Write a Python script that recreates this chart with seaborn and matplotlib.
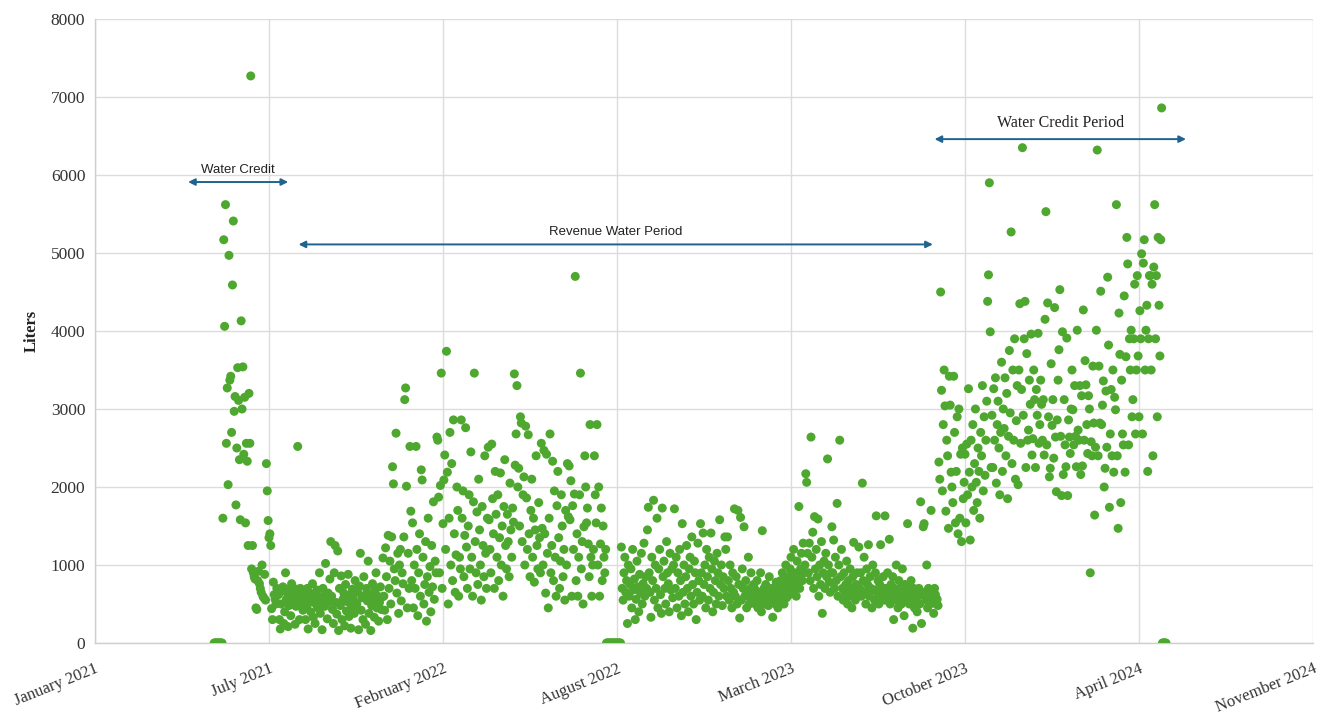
import numpy as np
import pandas as pd
import matplotlib
matplotlib.use("Agg")
import matplotlib.pyplot as plt
import matplotlib.dates as mdates
import seaborn as sns

# Daily water volume readings (liters), one list per month of records
may_2021 = [0, 0, 0, 0, 0, 0, 0, 0, 0, 0, 1600]
jun_2021 = [5170, 4060, 5620, 2560, 3270, 2030, 4970, 3370, 3420, 2700, 4590, 5410, 2970, 3160, 1770,
            2500, 3530, 3110, 2350, 1580, 4130, 3000, 3540, 2420, 3150, 1540, 2560, 2330, 1250, 3200]
jul_2021 = [2560, 7270, 950, 1250, 900, 850, 820, 450, 430, 800, 920, 760, 700, 650, 1000, 600, 580,
            880, 550, 2300, 1950, 1570, 1350, 1400, 1250, 440, 300, 780, 620, 560, 500]
aug_2021 = [700, 650, 620, 300, 180, 500, 680, 720, 250, 400, 900, 560, 640, 210, 480, 700, 350, 760,
            600, 550, 620, 240, 470, 690, 2520, 560, 300, 700, 640, 480, 420]
sep_2021 = [620, 550, 300, 450, 700, 180, 650, 520, 400, 580, 760, 330, 610, 250, 500, 680, 450, 600,
            900, 380, 540, 170, 700, 600, 470, 1020, 560, 310, 640, 530]
oct_2021 = [820, 1300, 600, 430, 250, 900, 1250, 520, 370, 1180, 160, 700, 480, 860, 300, 560, 640,
            220, 750, 410, 530, 880, 340, 620, 190, 470, 690, 560, 380, 800, 450]
nov_2021 = [500, 650, 170, 730, 1150, 420, 580, 300, 850, 610, 240, 700, 540, 1050, 380, 620, 160, 480,
            760, 560, 330, 680, 900, 450, 600, 280, 520, 720, 430, 590]
dec_2021 = [1090, 600, 420, 1220, 850, 300, 1380, 700, 1050, 500, 1360, 2260, 2040, 950, 800, 2690, 640,
            1150, 380, 1000, 1200, 540, 900, 760, 1360, 3120, 3270, 2010, 450, 1150, 700]
jan_2022 = [2520, 1690, 800, 1540, 450, 1000, 700, 2520, 1200, 350, 900, 1400, 600, 2220, 2090, 1100,
            500, 750, 1300, 280, 850, 1600, 650, 980, 400, 1250, 720, 1810, 560, 1050, 900]
feb_2022 = [2640, 2600, 1870, 900, 2020, 3460, 700, 1530, 2090, 2410, 1200, 3740, 2190, 500, 1600, 2700,
            1000, 2300, 800, 2860, 1400, 650, 1130, 2000, 1700, 600, 1100, 950]
mar_2022 = [2860, 1600, 1950, 850, 1380, 2760, 1230, 700, 1500, 1900, 950, 2450, 1100, 600, 1810, 3460,
            1300, 900, 1680, 750, 2100, 1450, 1000, 550, 1750, 1250, 850, 2400, 1150, 700, 1600]
apr_2022 = [2510, 1580, 1200, 900, 2550, 1850, 1400, 700, 2200, 1650, 1100, 1900, 800, 1350, 2180, 1000,
            1500, 600, 1750, 2350, 1250, 950, 1650, 1300, 850, 2050, 1450, 1100, 1730, 1550]
may_2022 = [3450, 2280, 2680, 3300, 2000, 2240, 1500, 2900, 2820, 1300, 1900, 2130, 1000, 2780, 1860,
            1200, 2670, 1400, 850, 1700, 2100, 1100, 1600, 780, 1450, 2400, 1250, 950, 1800, 1350, 900]
jun_2022 = [2560, 1470, 1000, 2470, 1400, 640, 2420, 1150, 450, 1600, 2680, 900, 1250, 2330, 800, 1950,
            1100, 600, 1760, 2200, 1350, 700, 1050, 1900, 1500, 850, 1200, 550, 1700, 1000]
jul_2022 = [2300, 1620, 2270, 1580, 2080, 600, 1760, 1200, 1910, 4700, 800, 1400, 600, 1100, 1900, 3460,
            950, 1300, 500, 1490, 2400, 2000, 1540, 1730, 1270, 850, 2800, 1100, 600, 1000, 1200]
aug_2022 = [2400, 1900, 1540, 2800, 1000, 2000, 600, 1270, 1730, 800, 1500, 1100, 900, 1200,
            0, 0, 0, 0, 0, 0, 0, 0, 0, 0, 0, 0, 0, 0, 0, 0, 0]
sep_2022 = [1230, 700, 550, 900, 1100, 650, 800, 250, 1000, 600, 750, 950, 450, 1200, 680, 820, 300, 560,
            1050, 720, 400, 880, 640, 1150, 500, 760, 1280, 600, 850, 700]
oct_2022 = [1450, 1740, 900, 650, 330, 1100, 800, 1830, 550, 1000, 700, 1600, 450, 950, 1200, 620, 380,
            1730, 850, 1050, 700, 500, 1300, 900, 760, 400, 1150, 680, 950, 580, 1000]
nov_2022 = [1720, 700, 1100, 450, 900, 600, 1200, 800, 350, 1530, 650, 1000, 500, 850, 1250, 700, 400,
            950, 1100, 600, 1360, 750, 500, 1050, 900, 300, 650, 1280, 800, 550]
dec_2022 = [1530, 900, 600, 1410, 750, 1000, 450, 1200, 850, 550, 1100, 700, 1410, 950, 400, 650, 1050,
            800, 500, 1150, 900, 600, 1580, 750, 1000, 480, 850, 700, 1360, 1200, 600]
jan_2023 = [1360, 800, 550, 1000, 700, 450, 900, 650, 1720, 600, 850, 500, 1700, 750, 320, 1610, 550,
            950, 700, 1490, 600, 800, 450, 650, 1100, 500, 700, 900, 550, 600, 750]
feb_2023 = [700, 500, 600, 800, 450, 650, 550, 900, 400, 1440, 600, 700, 500, 750, 550, 650, 480, 850,
            600, 520, 700, 330, 560, 640, 500, 780, 600, 450]
mar_2023 = [700, 550, 800, 600, 900, 650, 500, 750, 1000, 580, 850, 700, 620, 950, 1100, 800, 680, 1200,
            900, 750, 600, 1050, 850, 1750, 700, 950, 1150, 800, 1280, 900, 1000]
apr_2023 = [2170, 2060, 1150, 900, 1280, 800, 2640, 1100, 1420, 700, 1620, 950, 1200, 850, 1590, 600,
            1000, 750, 1300, 380, 900, 1050, 700, 1150, 850, 2360, 1000, 780, 650, 900]
may_2023 = [1490, 900, 1320, 700, 1100, 800, 1790, 600, 1000, 2600, 850, 1200, 700, 550, 900, 650, 750,
            1050, 500, 800, 600, 950, 700, 450, 850, 1290, 650, 550, 750, 900, 600]
jun_2023 = [1230, 700, 900, 600, 2050, 800, 1100, 650, 500, 950, 750, 1260, 600, 850, 700, 450, 1000,
            680, 550, 900, 1630, 650, 800, 500, 750, 1260, 600, 700, 850, 550]
jul_2023 = [1630, 700, 550, 900, 650, 1330, 500, 750, 600, 850, 300, 700, 550, 1000, 650, 450, 800, 600,
            700, 500, 950, 600, 350, 750, 650, 550, 1530, 700, 500, 600, 800]
aug_2023 = [600, 190, 700, 450, 650, 550, 400, 600, 700, 500, 1810, 250, 650, 1490, 1530, 600, 550, 1000,
            450, 700, 600, 500, 1700, 640, 550, 380, 700, 620, 500, 560, 480]
sep_2023 = [2320, 2100, 4500, 3240, 1950, 2800, 3500, 3040, 1690, 2600, 2400, 1470, 3420, 3050, 2190,
            2000, 1800, 3420, 2700, 1540, 2200, 2900, 1400, 3000, 1600, 2420, 1300, 2500, 1850, 2060]
oct_2023 = [2420, 1540, 2550, 1900, 3260, 2190, 1320, 2600, 2000, 2800, 1700, 2300, 3000, 2060, 1800,
            2500, 2200, 1600, 2700, 2400, 3300, 1950, 2900, 2150, 2600, 3100, 4380, 4720, 5900, 3990, 2250]
nov_2023 = [2920, 2250, 3260, 2600, 3400, 2050, 2800, 3100, 2500, 1900, 2700, 3600, 2200, 3000, 2750,
            3400, 2400, 3200, 1850, 2650, 3750, 2950, 5270, 2300, 3500, 2600, 3900, 2100, 2850, 3300]
dec_2023 = [2030, 3500, 4350, 2560, 3250, 6350, 2920, 3900, 4380, 2250, 3710, 2600, 2730, 3370, 3060,
            3960, 2410, 2620, 3500, 3120, 2250, 3250, 2920, 3970, 2560, 2800, 3370, 3060, 2600, 3120, 2410]
jan_2024 = [4150, 5530, 2540, 4360, 2900, 2130, 2240, 3580, 2790, 3120, 2370, 4300, 2640, 1940, 2860,
            3370, 3760, 4530, 2650, 1890, 3990, 2160, 3120, 2540, 2260, 3910, 1890, 2860, 2640, 2430, 3000]
feb_2024 = [3500, 2990, 2540, 3300, 2650, 2260, 4010, 2730, 2600, 3300, 2160, 3170, 2270, 4270, 2600,
            3620, 3310, 2800, 2430, 3170, 3000, 900, 2580, 2400, 3550, 2820, 1640, 2510, 4010]
mar_2024 = [6320, 2400, 3550, 2820, 4510, 2800, 3050, 3360, 2000, 2240, 3230, 2510, 4690, 3820, 1740,
            2680, 3250, 2400, 3500, 2190, 3150, 2990, 5620, 2400, 1470, 4230, 3700, 1800, 3370, 2680, 2540]
apr_2024 = [4450, 2190, 3670, 5200, 4860, 2540, 3900, 3500, 4010, 2900, 3120, 3900, 4600, 2680, 3500,
            4710, 3680, 2900, 4260, 3900, 4990, 2680, 4870, 5170, 3500, 4010, 4330, 2200, 3900, 4710]
may_2024 = [4710, 3500, 4600, 2400, 4820, 5620, 3900, 4710, 2900, 5200, 4330, 3680, 5170, 6860,
            0, 0, 0, 0, 0]

segments = [
    ("2021-05-21", may_2021), ("2021-06-01", jun_2021), ("2021-07-01", jul_2021),
    ("2021-08-01", aug_2021), ("2021-09-01", sep_2021), ("2021-10-01", oct_2021),
    ("2021-11-01", nov_2021), ("2021-12-01", dec_2021), ("2022-01-01", jan_2022),
    ("2022-02-01", feb_2022), ("2022-03-01", mar_2022), ("2022-04-01", apr_2022),
    ("2022-05-01", may_2022), ("2022-06-01", jun_2022), ("2022-07-01", jul_2022),
    ("2022-08-01", aug_2022), ("2022-09-01", sep_2022), ("2022-10-01", oct_2022),
    ("2022-11-01", nov_2022), ("2022-12-01", dec_2022), ("2023-01-01", jan_2023),
    ("2023-02-01", feb_2023), ("2023-03-01", mar_2023), ("2023-04-01", apr_2023),
    ("2023-05-01", may_2023), ("2023-06-01", jun_2023), ("2023-07-01", jul_2023),
    ("2023-08-01", aug_2023), ("2023-09-01", sep_2023), ("2023-10-01", oct_2023),
    ("2023-11-01", nov_2023), ("2023-12-01", dec_2023), ("2024-01-01", jan_2024),
    ("2024-02-01", feb_2024), ("2024-03-01", mar_2024), ("2024-04-01", apr_2024),
    ("2024-05-01", may_2024),
]

frames = [pd.DataFrame({"date": pd.date_range(start, periods=len(vals), freq="D"), "liters": vals})
          for start, vals in segments]
df = pd.concat(frames, ignore_index=True)

# Period annotations: label, start, end, arrow height, label baseline height
period_labels = ["Water Credit", "Revenue Water Period", "Water Credit Period"]
period_starts = ["2021-04-21", "2021-08-26", "2023-08-27"]
period_ends = ["2021-08-14", "2023-08-25", "2024-06-11"]
arrow_levels = [5910, 5110, 6460]
label_levels = [5990, 5190, 6560]

sns.set_theme(style="whitegrid")
plt.rcParams["font.family"] = ["Liberation Serif", "DejaVu Serif"]

fig = plt.figure(figsize=(13.23, 7.18), dpi=100)
ax = fig.add_axes([95 / 1323, 75 / 718, 1218 / 1323, 624 / 718])

sns.scatterplot(data=df, x="date", y="liters", color="#4EA72E", s=42, linewidth=0,
                edgecolor="none", ax=ax, zorder=3, legend=False)

axis_start = pd.Timestamp("2021-01-04")
tick_dates = [axis_start + pd.Timedelta(days=200 * k) for k in range(8)]
ax.set_xlim(tick_dates[0], tick_dates[-1])
ax.set_xticks(tick_dates)
ax.set_xticklabels([d.strftime("%B %Y") for d in tick_dates], rotation=22, ha="right",
                   rotation_mode="anchor", fontsize=12, color="#333333")
ax.set_ylim(0, 8000)
ax.set_yticks(np.arange(0, 8001, 1000))
ax.set_yticklabels([str(v) for v in range(0, 8001, 1000)], fontsize=12.5, color="#333333")
ax.tick_params(axis="x", length=0, pad=13)
ax.tick_params(axis="y", length=0, pad=7)

ax.set_xlabel("")
ax.set_ylabel("Liters", fontsize=12, fontweight="bold", color="#222222", labelpad=8)

ax.grid(True, color="#dcdcdc", linewidth=1.0)
for side in ["top", "right"]:
    ax.spines[side].set_visible(False)
for side in ["left", "bottom"]:
    ax.spines[side].set_color("#cfcfcf")
    ax.spines[side].set_linewidth(1.0)
ax.set_facecolor("white")

arrow_color = "#1F6390"
fonts = [("Liberation Sans", 9.5), ("Liberation Sans", 9.5), ("Liberation Serif", 11.5)]
for lab, s, e, ya, yl, (fam, fs) in zip(period_labels, period_starts, period_ends,
                                          arrow_levels, label_levels, fonts):
    s_num = mdates.date2num(pd.Timestamp(s))
    e_num = mdates.date2num(pd.Timestamp(e))
    ax.annotate("", xy=(e_num, ya), xytext=(s_num, ya),
                arrowprops=dict(arrowstyle="<|-|>", color=arrow_color, lw=1.4,
                                mutation_scale=10, shrinkA=0, shrinkB=0),
                zorder=4, annotation_clip=False)
    ax.text((s_num + e_num) / 2, yl, lab, ha="center", va="bottom", fontsize=fs,
            family=[fam, "DejaVu Sans"], color="#222222", zorder=4)

fig.savefig("out.png", dpi=100, facecolor="white")
